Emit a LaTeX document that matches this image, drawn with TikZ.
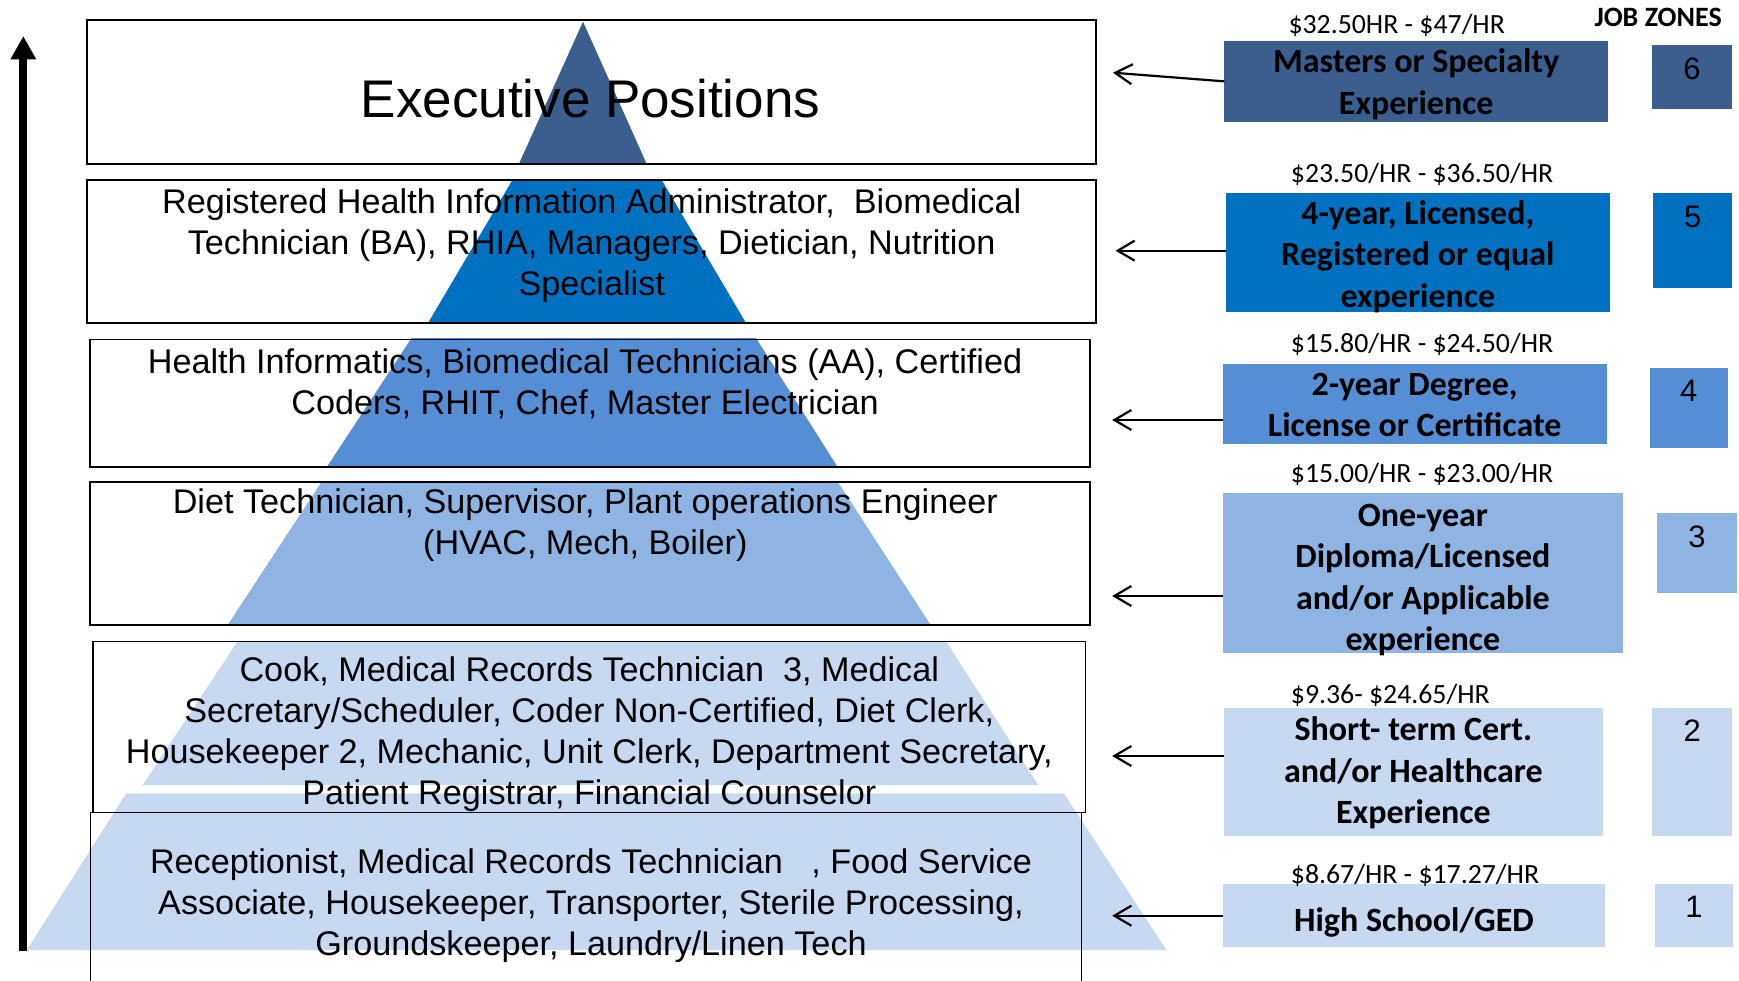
\documentclass[tikz,border=0pt]{standalone}
\usepackage{fontspec}
\setmainfont{Liberation Sans}
\newfontfamily\calibri{Carlito}
\usetikzlibrary{arrows.meta}
\definecolor{lvsix}{HTML}{3A5F8F}
\definecolor{lvfive}{HTML}{0070C0}
\definecolor{lvfour}{HTML}{558ED5}
\definecolor{lvthree}{HTML}{8EB4E3}
\definecolor{lvtwo}{HTML}{C6D9F1}
\begin{document}
\begin{tikzpicture}[x=1pt,y=-1pt,
  posbox/.style={draw=black, line width=1.8pt},
  posboxthin/.style={draw=black, line width=1.3pt},
  postext/.style={font=\fontsize{34.2}{41}\selectfont, align=center, anchor=base, inner sep=0pt},
  salary/.style={font=\calibri\fontsize{27.8}{33}\selectfont, anchor=base west, inner sep=0pt},
  edu/.style={font=\calibri\bfseries\fontsize{34}{41.5}\selectfont, align=center, anchor=base, inner sep=0pt},
  zonenum/.style={font=\fontsize{31}{36}\selectfont, anchor=base, inner sep=0pt},
  rbox/.style={draw=none, inner sep=0pt, outer sep=0pt, anchor=north west},
  ptr/.style={-{Straight Barb[length=17pt,width=20pt]}, line width=2.2pt},
]
\useasboundingbox (0,0) rectangle (1739,980);

% pyramid layers
\fill[lvtwo] (126.3,793.3) -- (1063.8,793.3) -- (1166.4,950) -- (26.8,950) -- cycle;
\fill[lvtwo] (237.3,641.7) -- (946.3,641.7) -- (1038.2,785) -- (142.7,785) -- cycle;
\fill[lvthree] (321.7,481.7) -- (837.7,481.7) -- (930,624) -- (228.3,624) -- cycle;
\fill[lvfour] (411.5,338) -- (756,338) -- (837,466) -- (327.5,466) -- cycle;
\fill[lvfive] (512.4,180) -- (661.7,180) -- (745.8,322.7) -- (428.2,322.7) -- cycle;
\fill[lvsix] (583,21.7) -- (646.3,163) -- (519.3,163) -- cycle;

% position boxes
\draw[posbox] (87.3,20) rectangle (1095.7,164);
\draw[posbox] (87.3,180) rectangle (1095.7,323);
\draw[posbox] (89.8,339.5) rectangle (1089.7,467.3);
\draw[posbox] (89.8,481.7) rectangle (1089.7,625);
\draw[posboxthin] (93,641.7) rectangle (1085.3,812.7);
\draw[posboxthin] (90.3,990) -- (90.3,812.7) -- (1081.4,812.7) -- (1081.4,990);

% position texts (anchor = baseline of last line)
\node[font=\fontsize{53}{60}\selectfont, anchor=base, inner sep=0pt] (p6) at (590.5,117.3) {Executive Positions};
\node[postext] (p5) at (591.7,295.3) {Registered Health Information Administrator,\ \ Biomedical\\Technician (BA), RHIA, Managers, Dietician, Nutrition\\Specialist};
\node[postext] (p4) at (585,414.3) {Health Informatics, Biomedical Technicians (AA), Certified\\Coders, RHIT, Chef, Master Electrician};
\node[postext] (p3) at (585.3,554.3) {Diet Technician, Supervisor, Plant operations Engineer\\(HVAC, Mech, Boiler)};
\node[postext] (p2) at (589.3,804.7) {Cook, Medical Records Technician\ \ 3, Medical\\Secretary/Scheduler, Coder Non-Certified, Diet Clerk,\\Housekeeper 2, Mechanic, Unit Clerk, Department Secretary,\\Patient Registrar, Financial Counselor};
\node[postext] (p1) at (591,955.3) {Receptionist, Medical Records Technician\ \ \ , Food Service\\Associate, Housekeeper, Transporter, Sterile Processing,\\Groundskeeper, Laundry/Linen Tech};

% growth arrow
\coordinate (gbot) at (23.3,950.7);
\coordinate (gtop) at (23.3,36);
\draw[line width=8.3pt, -{Triangle[length=23.3pt,width=24pt]}] (gbot) -- (gtop);

% right education boxes
\node[rbox, fill=lvsix, minimum width=383.9pt, minimum height=80.7pt] (r6) at (1224.3,41) {};
\node[rbox, fill=lvfive, minimum width=383.9pt, minimum height=118.4pt] (r5) at (1225.9,193.3) {};
\node[rbox, fill=lvfour, minimum width=383.5pt, minimum height=80pt] (r4) at (1223,364) {};
\node[rbox, fill=lvthree, minimum width=399.8pt, minimum height=160pt] (r3) at (1223,493.3) {};
\node[rbox, fill=lvtwo, minimum width=379pt, minimum height=127.4pt] (r2) at (1223.9,708.3) {};
\node[rbox, fill=lvtwo, minimum width=381.9pt, minimum height=63pt] (r1) at (1223,884.3) {};

% zone boxes
\node[rbox, fill=lvsix, minimum width=79.4pt, minimum height=63.7pt] (z6) at (1652.2,45) {};
\node[rbox, fill=lvfive, minimum width=79.4pt, minimum height=95pt] (z5) at (1653,193.3) {};
\node[rbox, fill=lvfour, minimum width=77.6pt, minimum height=79.4pt] (z4) at (1650,368.3) {};
\node[rbox, fill=lvthree, minimum width=80pt, minimum height=79.4pt] (z3) at (1657,513.3) {};
\node[rbox, fill=lvtwo, minimum width=80.4pt, minimum height=127.4pt] (z2) at (1652,708.3) {};
\node[rbox, fill=lvtwo, minimum width=77.8pt, minimum height=63pt] (z1) at (1655,884.3) {};

% zone numbers
\node[zonenum] (n6) at ([yshift=-34pt]z6.north) {6};
\node[zonenum] (n5) at ([yshift=-34pt]z5.north) {5};
\node[zonenum] (n4) at ([yshift=-33pt]z4.north) {4};
\node[zonenum] (n3) at ([yshift=-34pt]z3.north) {3};
\node[zonenum] (n2) at ([yshift=-33pt]z2.north) {2};
\node[zonenum] (n1) at ([yshift=-33.5pt]z1.north) {1};

\node[font=\calibri\bfseries\fontsize{28}{30}\selectfont, anchor=base west, inner sep=0pt] (jz) at (1594.3,26) {JOB ZONES};

% education texts (anchor = baseline of last line)
\node[edu] (e6) at ([yshift=-73.2pt]r6.north) {Masters or Specialty\\Experience};
\node[edu] (e5) at ([yshift=-113.7pt]r5.north) {4-year, Licensed,\\Registered or equal\\experience};
\node[edu] (e4) at ([yshift=-72.5pt]r4.north) {2-year Degree,\\License or Certificate};
\node[edu] (e3) at ([yshift=-157.2pt]r3.north) {One-year\\Diploma/Licensed\\and/or Applicable\\experience};
\node[edu] (e2) at ([yshift=-115.4pt]r2.north) {Short- term Cert.\\and/or Healthcare\\Experience};
\node[edu] (e1) at ([yshift=-47.4pt]r1.north) {High School/GED};

% salary labels
\node[salary] (s6) at (1288.3,33.3) {\$32.50HR - \$47/HR};
\node[salary] (s5) at (1290.7,182.7) {\$23.50/HR - \$36.50/HR};
\node[salary] (s4) at (1290.7,352.7) {\$15.80/HR - \$24.50/HR};
\node[salary] (s3) at (1290.7,482.7) {\$15.00/HR - \$23.00/HR};
\node[salary] (s2) at (1290.7,703.3) {\$9.36- \$24.65/HR};
\node[salary] (s1) at (1290.7,883.3) {\$8.67/HR - \$17.27/HR};

% pointer arrows
\coordinate (t6) at (1113,72.7);
\coordinate (t5) at (1115.5,250.7);
\coordinate (t4) at (1112.2,420);
\coordinate (t3) at (1112.2,596);
\coordinate (t2) at (1112.2,756);
\coordinate (t1) at (1112.2,915.7);
\draw[ptr] (r6.west) -- (t6);
\draw[ptr] (t5 -| r5.west) -- (t5);
\draw[ptr] (t4 -| r4.west) -- (t4);
\draw[ptr] (t3 -| r3.west) -- (t3);
\draw[ptr] (t2 -| r2.west) -- (t2);
\draw[ptr] (t1 -| r1.west) -- (t1);
\end{tikzpicture}
\end{document}
